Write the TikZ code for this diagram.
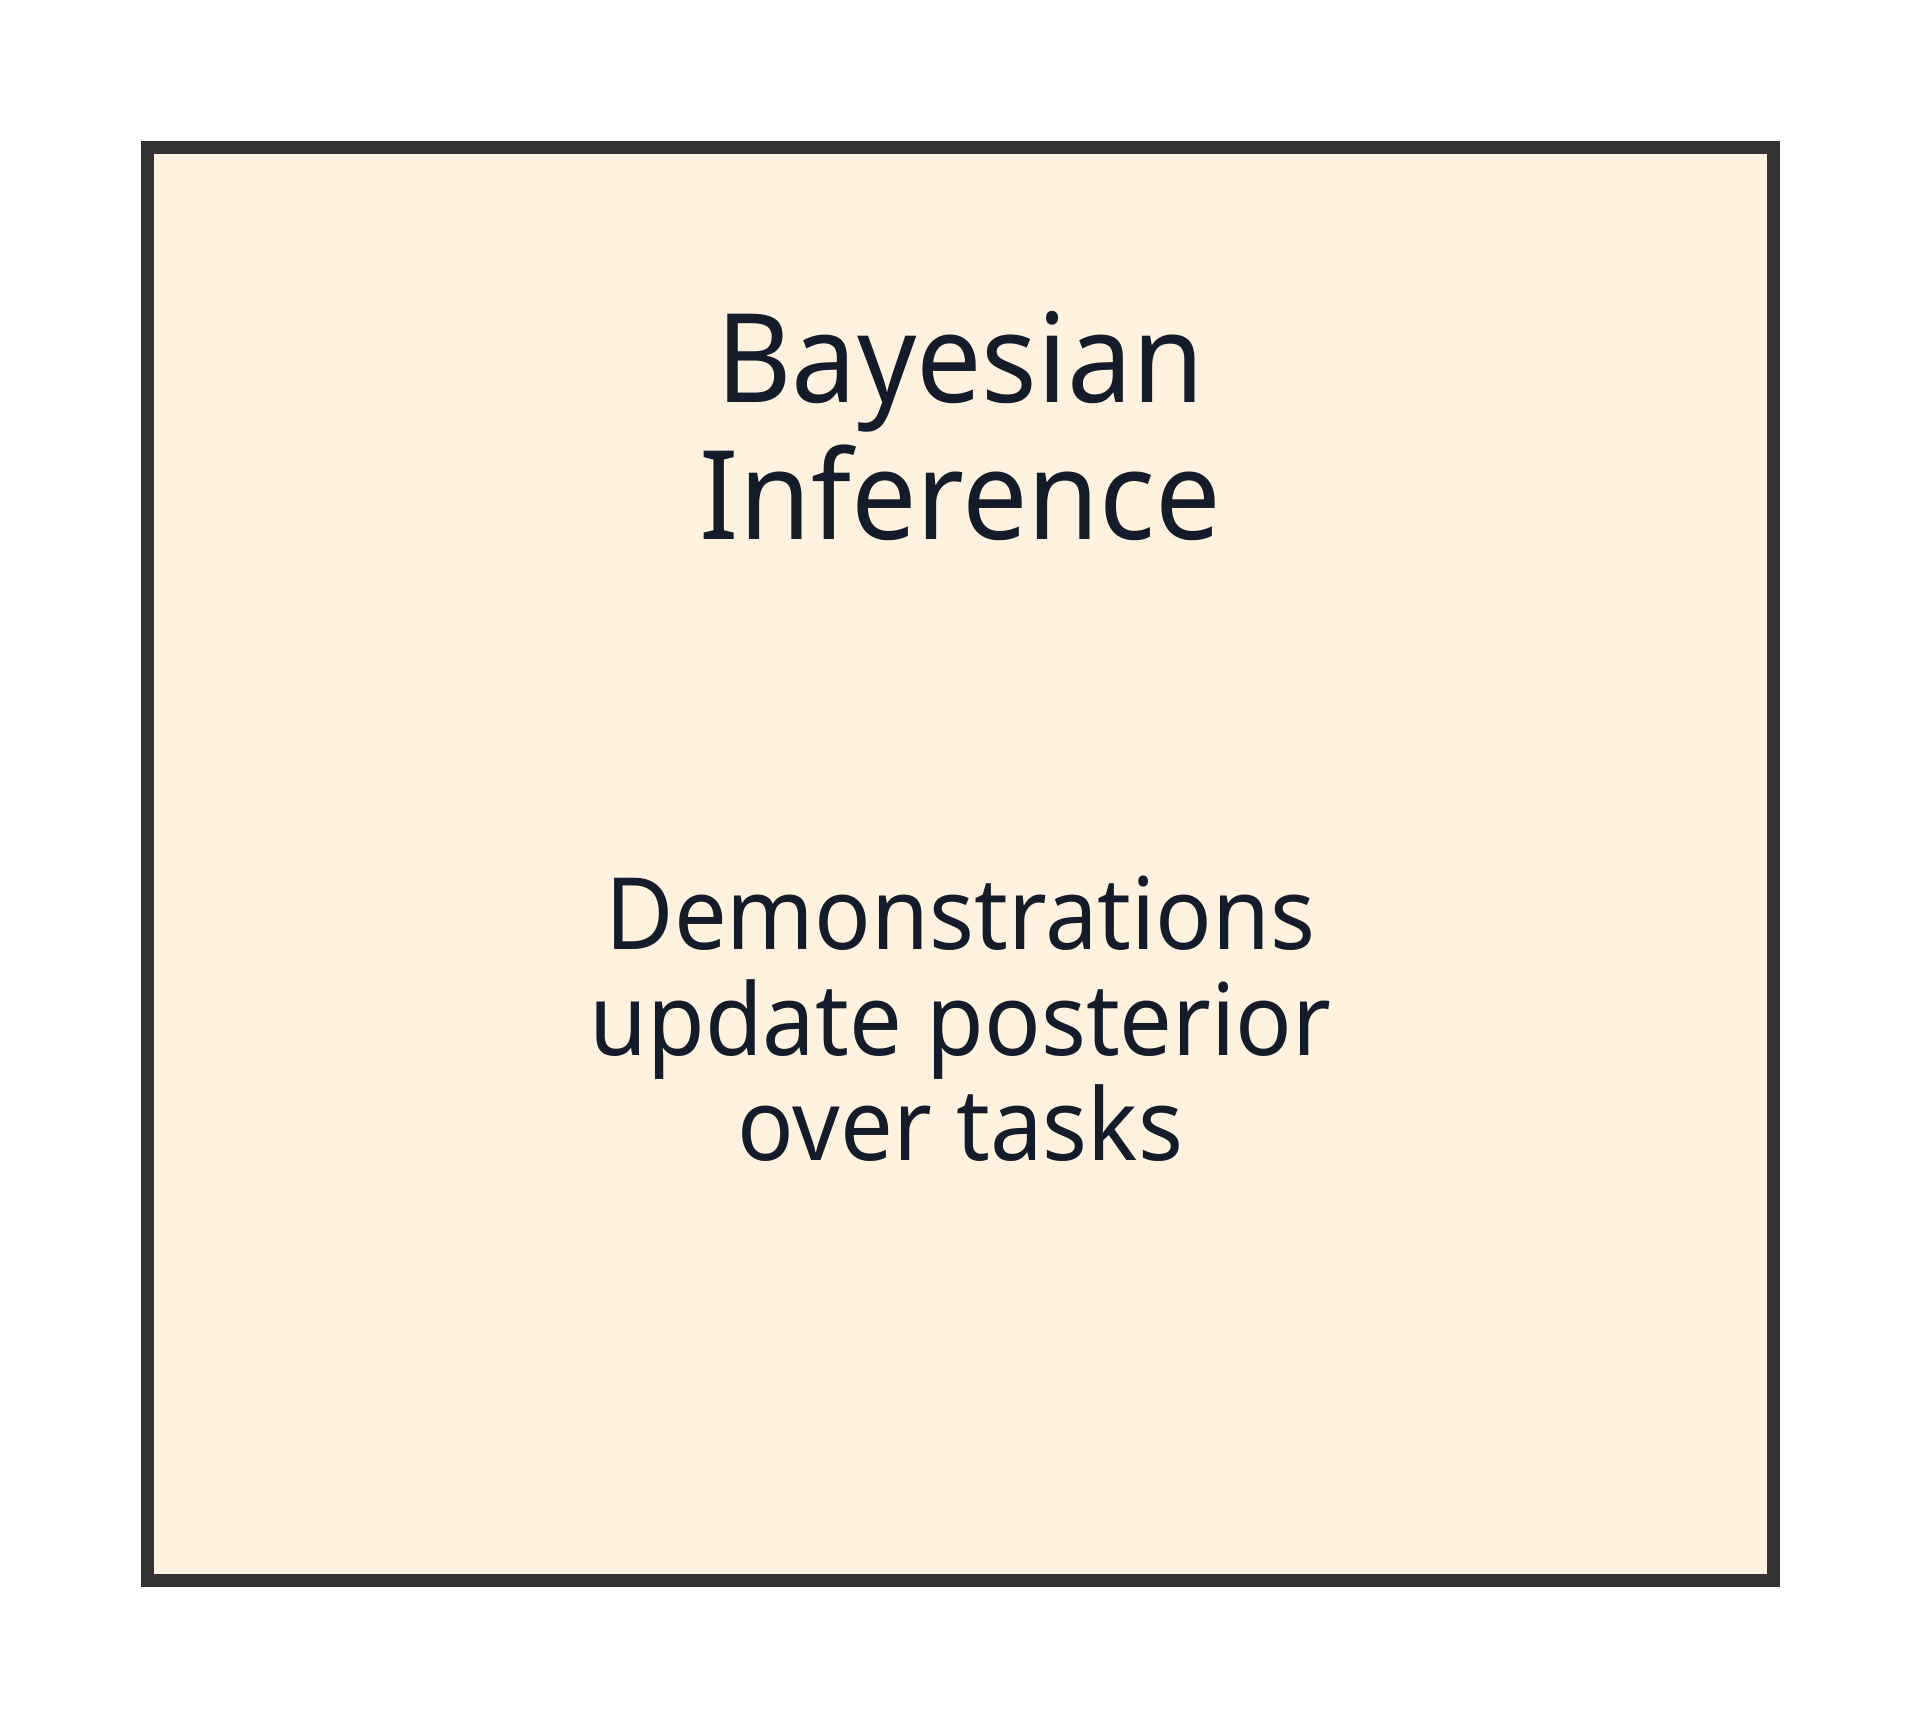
\documentclass[tikz,border=0pt]{standalone}
\usepackage{fontspec}
\setmainfont{Noto Sans}[FakeStretch=0.94]
\usepackage{tikz}
\usetikzlibrary{positioning}

\definecolor{boxfill}{HTML}{FFF2DF}
\definecolor{boxline}{HTML}{333333}
\definecolor{inktext}{HTML}{141C2B}

\tikzset{
	panel/.style={draw=boxline, fill=boxfill, line width=3.7pt, minimum width=16.26cm, minimum height=14.33cm, inner sep=0pt},
	headtext/.style={text=inktext, align=center, inner sep=0pt, font=\fontsize{35.2}{39}\selectfont},
	bodytext/.style={text=inktext, align=center, inner sep=0pt, font=\fontsize{28.4}{30}\selectfont}
}

\begin{document}
\begin{tikzpicture}[scale=1]
			\useasboundingbox (0, 0) rectangle (19.2, -17.28);
			\node[panel] (bayes) at (9.605, -8.64) {};
			\node[headtext] (title) at (9.605, -4.26) {Bayesian\\Inference};
			\node[bodytext] (update) at (9.605, -10.19) {Demonstrations\\update posterior\\over tasks};
\end{tikzpicture}
\end{document}
